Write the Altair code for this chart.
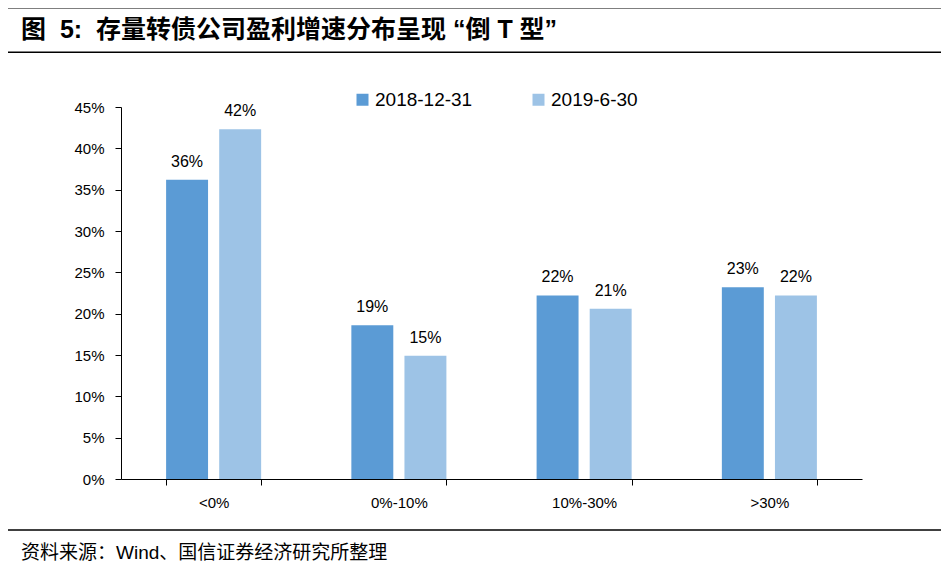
import altair as alt
import pandas as pd

# ---- data ----
categories = ["<0%", "0%-10%", "10%-30%", ">30%"]
series_names = ["2018-12-31", "2019-6-30"]
values_2018 = [0.362, 0.186, 0.222, 0.232]
values_2019 = [0.423, 0.149, 0.206, 0.222]
series_colors = ["#5B9BD5", "#9DC3E6"]
y_ticks = [0, 0.05, 0.10, 0.15, 0.20, 0.25, 0.30, 0.35, 0.40, 0.45]

NB = "\u00a0"
title_text = "图" + NB * 2 + "5:" + NB * 2 + "存量转债公司盈利增速分布呈现" + NB + "“倒" + NB + "T" + NB + "型”"
source_text = "资料来源：Wind、国信证券经济研究所整理"

rows = []
for c, a, b in zip(categories, values_2018, values_2019):
    rows.append({"cat": c, "series": series_names[0], "value": a})
    rows.append({"cat": c, "series": series_names[1], "value": b})
df = pd.DataFrame(rows)

LATIN = "Liberation Sans"
CJK = "Liberation Sans, Noto Sans CJK SC"

x_enc = alt.X(
    "cat:N",
    sort=categories,
    scale=alt.Scale(paddingInner=0.487, paddingOuter=0.2435),
    axis=alt.Axis(
        title=None, labelAngle=0, labelFont=LATIN, labelFontSize=15,
        labelColor="black", domainColor="black", tickColor="black",
        tickSize=6, tickBand="extent", labelPadding=10, grid=False,
    ),
)
xoff_enc = alt.XOffset("series:N", sort=series_names,
                       scale=alt.Scale(paddingInner=0.21, paddingOuter=0))
y_enc = alt.Y(
    "value:Q",
    scale=alt.Scale(domain=[0, 0.45], nice=False),
    axis=alt.Axis(
        title=None, values=y_ticks, format=".0%", labelFont=LATIN,
        labelFontSize=15, labelColor="black", domainColor="black",
        tickColor="black", tickSize=6, labelPadding=11, grid=False,
    ),
)
color_enc = alt.Color(
    "series:N",
    sort=series_names,
    scale=alt.Scale(domain=series_names, range=series_colors),
    legend=alt.Legend(
        title=None, orient="none", legendX=232, legendY=-17,
        direction="horizontal", labelFont=LATIN, labelFontSize=19,
        labelColor="black", symbolType="square", symbolSize=144,
        symbolStrokeWidth=0, columnPadding=56, labelOffset=3,
    ),
)

base = alt.Chart(df)
bars = base.mark_bar().encode(x=x_enc, xOffset=xoff_enc, y=y_enc, color=color_enc)
labels = base.mark_text(
    baseline="middle", dy=-18, font=LATIN, fontSize=16, color="black"
).encode(
    x=alt.X("cat:N", sort=categories),
    xOffset=alt.XOffset("series:N", sort=series_names),
    y="value:Q",
    text=alt.Text("value:Q", format=".0%"),
)

one = alt.Data(values=[{}])
top_line = alt.Chart(one).mark_rule(color="black", strokeWidth=2).encode(
    x=alt.value(-113), x2=alt.value(820), y=alt.value(-99.5))
title_line = alt.Chart(one).mark_rule(color="black", strokeWidth=1.5).encode(
    x=alt.value(-113), x2=alt.value(820), y=alt.value(-54.7))
foot_line = alt.Chart(one).mark_rule(color="black", strokeWidth=1.5).encode(
    x=alt.value(-113), x2=alt.value(820), y=alt.value(423))

title = alt.Chart(pd.DataFrame({"t": [title_text]})).mark_text(
    align="left", baseline="middle", font=CJK, fontSize=25,
    fontWeight="bold", color="black"
).encode(x=alt.value(-100), y=alt.value(-77), text="t:N")
source = alt.Chart(pd.DataFrame({"t": [source_text]})).mark_text(
    align="left", baseline="middle", font=CJK, fontSize=19, color="black"
).encode(x=alt.value(-100), y=alt.value(445.5), text="t:N")

chart = alt.layer(
    bars, labels, top_line, title_line, foot_line, title, source
).properties(
    width=741, height=372,
    autosize=alt.AutoSizeParams(type="none"),
    padding={"left": 113, "top": 99, "right": 80, "bottom": 82},
    background="white",
).configure_view(stroke="transparent")

chart.save("out.html", embed_options={"renderer": "svg", "actions": False})
